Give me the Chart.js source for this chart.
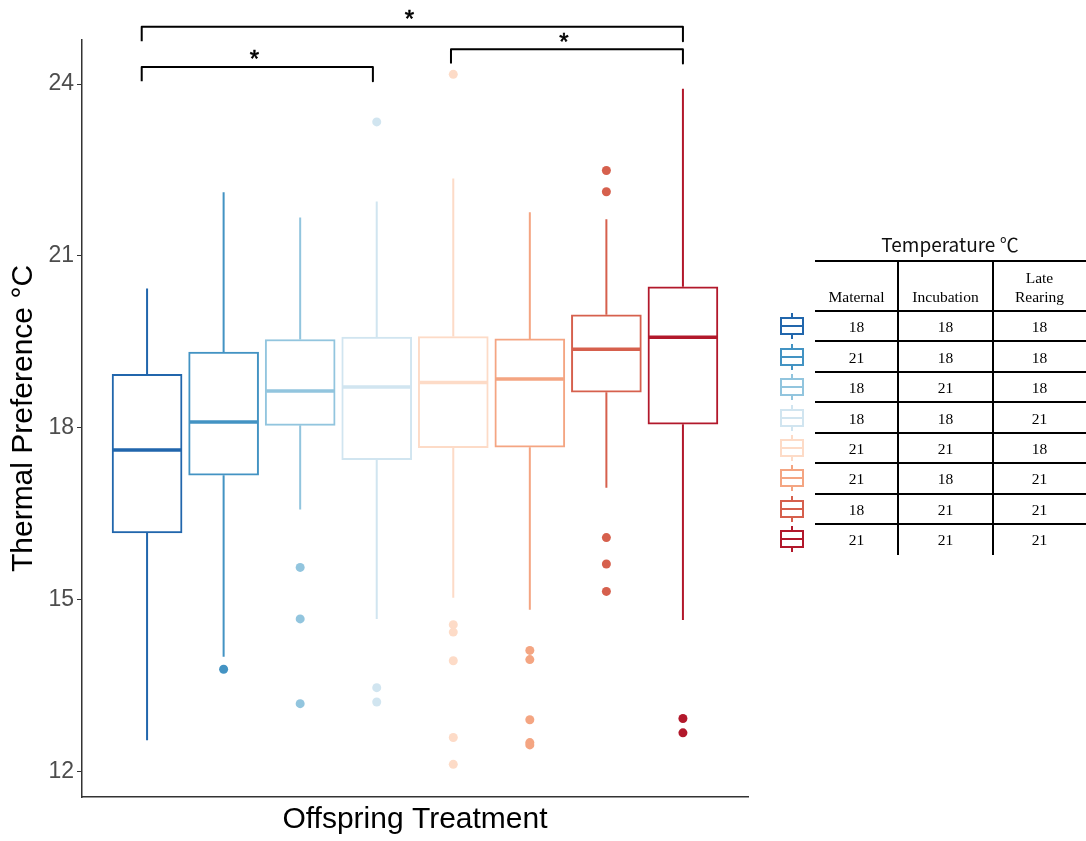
<!DOCTYPE html>
<html>
<head>
<meta charset="utf-8">
<script src="https://cdn.jsdelivr.net/npm/chart.js@4.4.1/dist/chart.umd.min.js"></script>
<style>
  body { margin: 0; background: #fff; }
  #wrap { position: relative; width: 1086px; height: 841px; }
  #legend { position: absolute; left: 0; top: 0; width: 1086px; height: 841px; pointer-events: none; }
  #legend div { position: absolute; }
  #legend .ttl { left: 815px; width: 270px; top: 230px; line-height: 26px; text-align: center;
    font: 19px "Noto Sans CJK JP", "Liberation Sans", sans-serif; color: #111; }
  #legend .cell { text-align: center; font: 15.5px "Liberation Serif", "Times New Roman", serif; color: #000;
    line-height: 19px; }
  #legend .hl { height: 1.5px; background: #000; }
  #legend .vl { width: 1.5px; background: #000; }
</style>
</head>
<body>
<div id="wrap">
  <canvas id="boxChart" width="1086" height="841"></canvas>
  <div id="legend">
    <div class="ttl">Temperature ℃</div>
  </div>
</div>
<script>
// treatments, in plotting order (maternal-incubation-late rearing)
const tempMaternal = [18, 21, 18, 18, 21, 21, 18, 21];
const tempIncubation = [18, 18, 21, 18, 21, 18, 21, 21];
const tempLateRearing = [18, 18, 18, 21, 18, 21, 21, 21];
const colors = ['#2166AC', '#4393C3', '#92C5DE', '#D1E5F0', '#FDDBC7', '#F4A582', '#D6604D', '#B2182B'];

// box plot stats
const lowerWhisker = [12.54, 14.00, 16.57, 14.66, 15.03, 14.82, 16.95, 14.64];
const q1 = [16.16, 17.17, 18.04, 17.44, 17.65, 17.66, 18.62, 18.06];
const median = [17.61, 18.10, 18.64, 18.71, 18.79, 18.85, 19.37, 19.58];
const q3 = [18.93, 19.32, 19.54, 19.58, 19.59, 19.55, 19.97, 20.46];
const upperWhisker = [20.43, 22.11, 21.67, 21.95, 22.35, 21.76, 21.64, 23.92];
const outliers = [
  [],
  [13.78],
  [15.56, 14.66, 13.18],
  [23.34, 13.46, 13.21],
  [24.17, 14.56, 14.43, 13.93, 12.59, 12.12],
  [14.11, 13.95, 12.90, 12.50, 12.46],
  [22.49, 22.12, 16.08, 15.62, 15.14],
  [12.92, 12.67]
];
const yTicks = [12, 15, 18, 21, 24];

// significance brackets: [from, to], bracket height, star
const bracketFrom = [0.93, 4.97, 0.93];
const bracketTo = [3.95, 8.0, 8.0];
const bracketTop = [24.30, 24.61, 25.0];
const bracketLeg = 0.25;
const bracketLabel = ['*', '*', '*'];

const datasets = [];

// boxes (floating bars)
datasets.push({
  type: 'bar',
  data: q1.map((v, i) => ({ x: i + 1, y: [v, q3[i]] })),
  backgroundColor: '#ffffff',
  borderColor: colors,
  borderWidth: 2,
  borderSkipped: false,
  barThickness: 70,
  order: 3
});

colors.forEach((c, i) => {
  const x = i + 1;
  // whiskers
  datasets.push({
    type: 'line',
    data: [
      { x: x, y: lowerWhisker[i] }, { x: x, y: q1[i] }, { x: x, y: null },
      { x: x, y: q3[i] }, { x: x, y: upperWhisker[i] }
    ],
    borderColor: c, borderWidth: 2, pointRadius: 0, spanGaps: false, order: 2
  });
  // median
  datasets.push({
    type: 'line',
    data: [{ x: x - 0.445, y: median[i] }, { x: x + 0.445, y: median[i] }],
    borderColor: c, borderWidth: 3.5, pointRadius: 0, order: 1
  });
});

// outliers
datasets.push({
  type: 'scatter',
  data: outliers.flatMap((arr, i) => arr.map(v => ({ x: i + 1, y: v }))),
  pointRadius: 4.5,
  pointBorderWidth: 0,
  pointBackgroundColor: ctx => colors[ctx.raw.x - 1],
  order: 0
});

// brackets
bracketFrom.forEach((a, k) => {
  const b = bracketTo[k], top = bracketTop[k];
  datasets.push({
    type: 'line',
    data: [{ x: a, y: top - bracketLeg }, { x: a, y: top }, { x: b, y: top }, { x: b, y: top - bracketLeg }],
    borderColor: '#000', borderWidth: 2, borderJoinStyle: 'round', pointRadius: 0,
    clip: false, order: 0
  });
});

const starPlugin = {
  id: 'stars',
  afterDatasetsDraw(chart) {
    const { ctx, scales: { x, y } } = chart;
    ctx.save();
    ctx.fillStyle = '#000';
    ctx.strokeStyle = '#000';
    ctx.lineWidth = 0.6;
    ctx.font = '24px "Liberation Sans", Arial, sans-serif';
    ctx.textAlign = 'center';
    ctx.textBaseline = 'alphabetic';
    bracketLabel.forEach((s, k) => {
      const m = ctx.measureText(s);
      const cx = x.getPixelForValue((bracketFrom[k] + bracketTo[k]) / 2) - 3;
      const cy = y.getPixelForValue(bracketTop[k]) - 12;
      const base = cy + (m.actualBoundingBoxAscent - m.actualBoundingBoxDescent) / 2;
      ctx.fillText(s, cx, base);
      ctx.strokeText(s, cx, base);
    });
    ctx.restore();
  }
};

new Chart(document.getElementById('boxChart'), {
  type: 'bar',
  data: { datasets: datasets },
  plugins: [starPlugin],
  options: {
    responsive: false,
    animation: false,
    events: [],
    layout: { padding: { left: 0, top: 40, right: 338, bottom: 0 } },
    plugins: { legend: { display: false }, tooltip: { enabled: false } },
    scales: {
      x: {
        type: 'linear',
        offset: false,
        min: 0.15,
        max: 8.85,
        grid: { display: false, offset: false },
        border: { display: true, color: '#333', width: 1.5 },
        ticks: { display: false },
        title: {
          display: true,
          text: 'Offspring Treatment',
          color: '#000',
          font: { size: 30, family: '"Liberation Sans", Arial, sans-serif' },
          padding: { top: 0, bottom: 3 }
        },
        afterFit: s => { s.height = 44; }
      },
      y: {
        type: 'linear',
        min: 11.55,
        max: 24.77,
        afterBuildTicks: s => { s.ticks = yTicks.map(v => ({ value: v })); },
        grid: { display: true, drawOnChartArea: false, drawTicks: true, tickLength: 5, color: '#333', lineWidth: 1 },
        border: { display: true, color: '#333', width: 1.5 },
        ticks: {
          color: '#4D4D4D',
          padding: 3,
          font: { size: 23, family: '"Liberation Sans", Arial, sans-serif' }
        },
        title: {
          display: true,
          text: 'Thermal Preference °C',
          color: '#000',
          font: { size: 30, family: '"Liberation Sans", Arial, sans-serif' },
          padding: { top: 6, bottom: 0 }
        },
        afterFit: s => { s.width = 82; }
      }
    }
  }
});

// legend table, drawn with positioned divs
const legend = document.getElementById('legend');
const colLeft = [815, 898, 993];
const colRight = [898, 993, 1086];
const headTop = 261, rowTop = 311, rowH = 30.45, tableBottom = 555;
function addDiv(cls, style, text) {
  const d = document.createElement('div');
  d.className = cls;
  d.style.cssText = style;
  if (text !== undefined) d.innerHTML = text;
  legend.appendChild(d);
}
addDiv('hl', `left:${colLeft[0]}px;top:${headTop - 1}px;width:${1086 - colLeft[0]}px`);
addDiv('vl', `left:${colLeft[1] - 1}px;top:${headTop}px;height:${tableBottom - headTop}px`);
addDiv('vl', `left:${colLeft[2] - 1}px;top:${headTop}px;height:${tableBottom - headTop}px`);
const headers = ['Maternal', 'Incubation', 'Late<br>Rearing'];
headers.forEach((h, j) => {
  const lines = h.split('<br>').length;
  addDiv('cell', `left:${colLeft[j]}px;width:${colRight[j] - colLeft[j]}px;top:${305.5 - lines * 19}px`, h);
});
tempMaternal.forEach((m, i) => {
  const top = rowTop + i * rowH;
  addDiv('hl', `left:${colLeft[0]}px;top:${Math.round(top) - 1}px;width:${1086 - colLeft[0]}px`);
  [m, tempIncubation[i], tempLateRearing[i]].forEach((v, j) => {
    addDiv('cell', `left:${colLeft[j]}px;width:${colRight[j] - colLeft[j]}px;top:${Math.round(top + rowH / 2 - 9)}px`, v);
  });
  const c = colors[i];
  addDiv('', `left:778px;top:${Math.round(top + rowH / 2 - 15)}px;width:30px;height:30px`,
    '<svg width="30" height="30" viewBox="0 0 30 30">' +
    `<line x1="14" y1="2" x2="14" y2="7" stroke="${c}" stroke-width="2"/>` +
    `<line x1="14" y1="23" x2="14" y2="28" stroke="${c}" stroke-width="2"/>` +
    `<rect x="3" y="7" width="22" height="16" fill="#fff" stroke="${c}" stroke-width="2"/>` +
    `<line x1="3" y1="15" x2="25" y2="15" stroke="${c}" stroke-width="2"/></svg>`);
});
</script>
</body>
</html>
